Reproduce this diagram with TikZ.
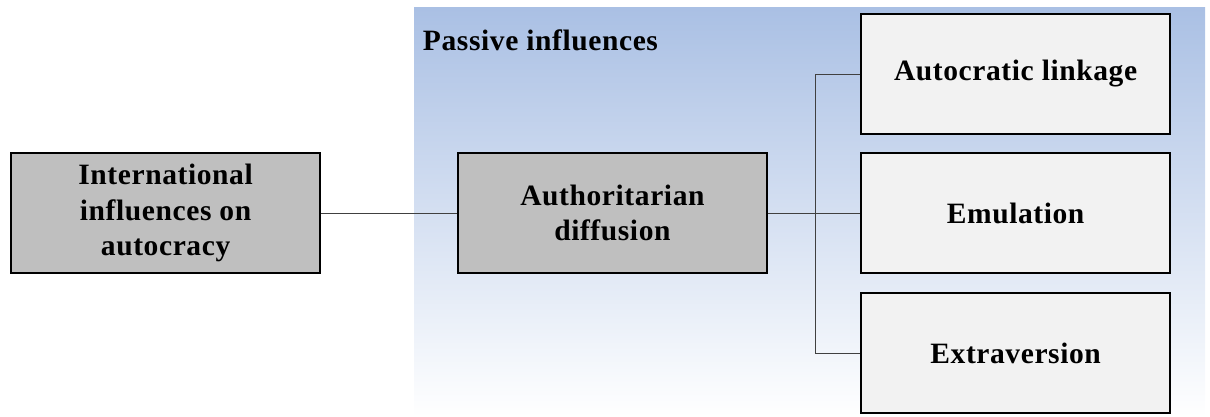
\documentclass[tikz,border=0pt]{standalone}
\usepackage{fontspec}
\setmainfont{Liberation Serif}[BoldFont={Liberation Serif Bold},LetterSpace=2]
\definecolor{passiveblue}{RGB}{170,192,228}
\definecolor{darkbox}{RGB}{191,191,191}
\definecolor{lightbox}{RGB}{242,242,242}
\begin{document}
\begin{tikzpicture}[
    box/.style={draw,line width=1.1pt,minimum width=7.725cm,minimum height=3cm,align=center,font=\fontsize{21}{25}\selectfont\bfseries},
    link/.style={draw=black!75,line width=0.6pt}]
    \useasboundingbox (0,0) rectangle (30.25,-10.425);
    % Passive influences background
    \shade[top color=passiveblue,bottom color=white] (10.35,-0.2) rectangle (30.125,-10.425);
    \node[anchor=west,font=\fontsize{21}{25}\selectfont\bfseries] (passive) at (10.45,-1.0) {Passive influences};

    % Main boxes
    \node[box,fill=darkbox] (intl) at (4.14,-5.325) {International\\influences on\\autocracy};
    \node[box,fill=darkbox] (diff) at (15.31,-5.325) {Authoritarian\\diffusion};

    % Mechanisms
    \node[box,fill=lightbox] (link) at (25.39,-1.85) {Autocratic linkage};
    \node[box,fill=lightbox] (emul) at (25.39,-5.325) {Emulation};
    \node[box,fill=lightbox] (extra) at (25.39,-8.825) {Extraversion};

    % Connectors
    \coordinate (junc) at (20.375,-5.325);
    \draw[link] (intl) -- (diff);
    \draw[link] (diff) -- (emul);
    \draw[link] (link.west) -| (junc) |- (extra.west);
  \end{tikzpicture}
\end{document}
